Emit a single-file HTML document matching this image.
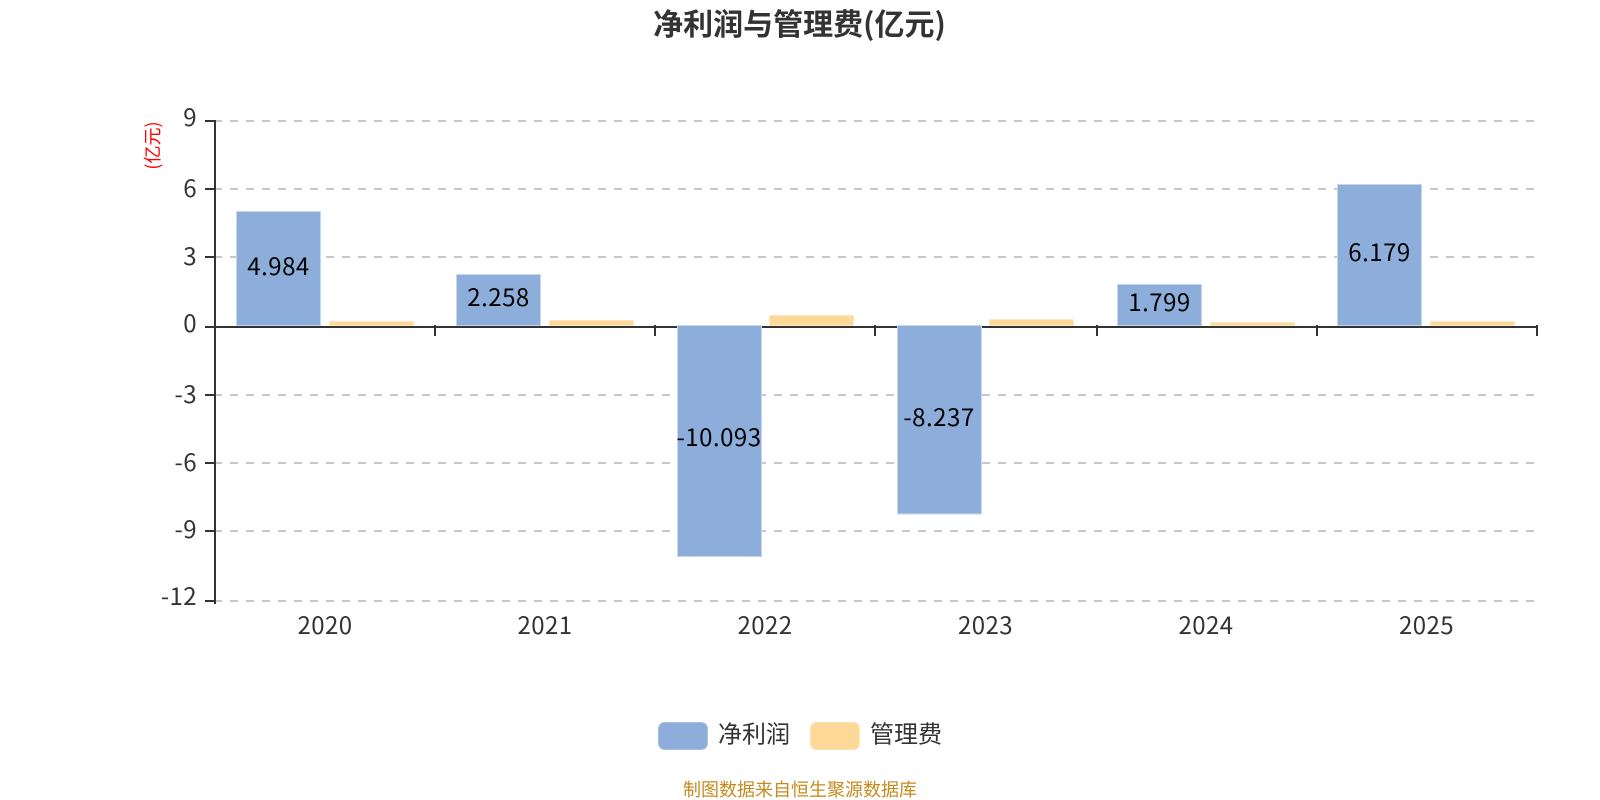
<!DOCTYPE html>
<html lang="zh">
<head>
<meta charset="utf-8">
<style>
html,body{margin:0;padding:0;background:#fff;width:1600px;height:800px;overflow:hidden}
svg{display:block}
text{font-family:"Noto Sans CJK SC","Liberation Sans",sans-serif}
.g{stroke:#c8c8c8;stroke-width:2;stroke-dasharray:8 8}
.a{stroke:#333;stroke-width:2;fill:none}
.b{fill:#8dadda;stroke:#c6d6ec;stroke-width:1}
.o{fill:#fed897;stroke:#fee8c4;stroke-width:1}
.y{font-size:24px;fill:#333;text-anchor:end;letter-spacing:.4px}
.x{font-size:24px;fill:#333;text-anchor:middle;letter-spacing:.4px}
.l{font-size:24px;fill:#000;text-anchor:middle;letter-spacing:.5px}
</style>
</head>
<body>
<svg width="1600" height="800" viewBox="0 0 1600 800" xmlns="http://www.w3.org/2000/svg">
<text x="799.500" y="35" font-size="30" font-weight="700" fill="#333" text-anchor="middle">净利润与管理费(亿元)</text>

<g>
<line class="g" x1="214" x2="1538" y1="121" y2="121"/>
<line class="g" x1="214" x2="1538" y1="189" y2="189"/>
<line class="g" x1="214" x2="1538" y1="257" y2="257"/>
<line class="g" x1="214" x2="1538" y1="395" y2="395"/>
<line class="g" x1="214" x2="1538" y1="463" y2="463"/>
<line class="g" x1="214" x2="1538" y1="531" y2="531"/>
<line class="g" x1="214" x2="1538" y1="601" y2="601"/>
</g>

<g>
<line class="a" x1="215" x2="215" y1="120" y2="604"/>
<line class="a" x1="214" x2="1538" y1="327" y2="327"/>
<line class="a" x1="205" x2="215" y1="121" y2="121"/>
<line class="a" x1="205" x2="215" y1="189" y2="189"/>
<line class="a" x1="205" x2="215" y1="257" y2="257"/>
<line class="a" x1="205" x2="215" y1="327" y2="327"/>
<line class="a" x1="205" x2="215" y1="395" y2="395"/>
<line class="a" x1="205" x2="215" y1="463" y2="463"/>
<line class="a" x1="205" x2="215" y1="531" y2="531"/>
<line class="a" x1="205" x2="215" y1="601" y2="601"/>
<line class="a" x1="435" x2="435" y1="325" y2="336"/>
<line class="a" x1="655" x2="655" y1="325" y2="336"/>
<line class="a" x1="875" x2="875" y1="325" y2="336"/>
<line class="a" x1="1097" x2="1097" y1="325" y2="336"/>
<line class="a" x1="1317" x2="1317" y1="325" y2="336"/>
<line class="a" x1="1537" x2="1537" y1="325" y2="336"/>
</g>

<g>
<rect class="b" x="236.500" y="211.500" width="84" height="114"/>
<rect class="o" x="329.500" y="321.500" width="84" height="4"/>
<rect class="b" x="456.500" y="274.500" width="84" height="51"/>
<rect class="o" x="549.500" y="320.500" width="84" height="5"/>
<rect class="b" x="677.500" y="325.500" width="84" height="231"/>
<rect class="o" x="769.500" y="315.500" width="84" height="10"/>
<rect class="b" x="897.500" y="325.500" width="84" height="188.500"/>
<rect class="o" x="989.500" y="319.500" width="84" height="6"/>
<rect class="b" x="1117.500" y="284.500" width="84" height="41"/>
<rect class="o" x="1210.500" y="322.500" width="84" height="3"/>
<rect class="b" x="1337.500" y="184.500" width="84" height="141"/>
<rect class="o" x="1430.500" y="321.500" width="84" height="4"/>
</g>

<g>
<text class="y" x="197" y="126">9</text>
<text class="y" x="197" y="197">6</text>
<text class="y" x="197" y="265">3</text>
<text class="y" x="197" y="332">0</text>
<text class="y" x="197" y="403">-3</text>
<text class="y" x="197" y="471">-6</text>
<text class="y" x="197" y="538">-9</text>
<text class="y" x="197" y="605">-12</text>
</g>

<text transform="translate(159,145.500) rotate(-90)" font-size="18" fill="#f00" text-anchor="middle">(亿元)</text>

<g>
<text class="x" x="325" y="634">2020</text>
<text class="x" x="545" y="634">2021</text>
<text class="x" x="765" y="634">2022</text>
<text class="x" x="985.500" y="634">2023</text>
<text class="x" x="1206" y="634">2024</text>
<text class="x" x="1426.500" y="634">2025</text>
</g>

<g>
<text class="l" x="278.500" y="275">4.984</text>
<text class="l" x="498.500" y="306">2.258</text>
<text class="l" x="719" y="446">-10.093</text>
<text class="l" x="939" y="426">-8.237</text>
<text class="l" x="1159.500" y="311">1.799</text>
<text class="l" x="1379.500" y="261">6.179</text>
</g>

<rect x="658.500" y="722.500" width="49" height="27" rx="6" fill="#8dadda" stroke="#a9c1e3" stroke-width="1"/>
<text x="718" y="742.500" font-size="24" fill="#333">净利润</text>
<rect x="810.500" y="722.500" width="49" height="27" rx="6" fill="#fed897" stroke="#fee3b5" stroke-width="1"/>
<text x="870" y="742.500" font-size="24" fill="#333">管理费</text>

<text x="800" y="796" font-size="18" fill="#c68a1e" text-anchor="middle">制图数据来自恒生聚源数据库</text>
</svg>
</body>
</html>
